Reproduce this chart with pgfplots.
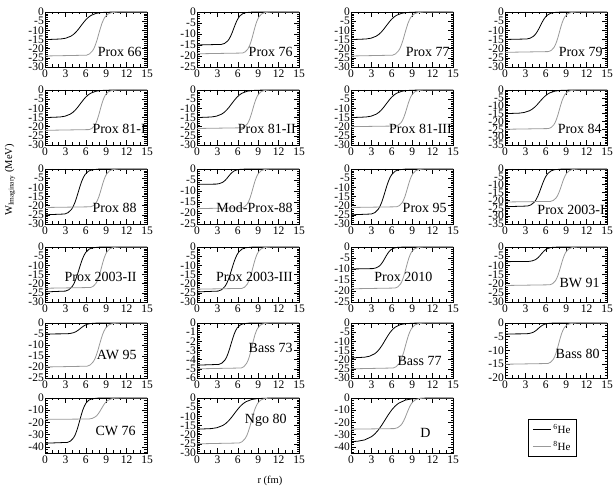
\documentclass[border=0pt]{standalone}
\usepackage{fontspec}
\setmainfont{Liberation Serif}
\usepackage{pgfplots}
\pgfplotsset{compat=1.18}

\pgfplotsset{
  pan/.style={scale only axis, width=102pt, height=55pt, anchor=north west,
    xmin=0, xmax=15, ymax=0, xtick={0,3,...,15}, minor x tick num=2,
    minor y tick num=4, ytick distance=5,
    tick align=inside, major tick length=5pt, minor tick length=2.5pt,
    axis line style={line width=0.7pt},
    every tick/.append style={black, line width=0.5pt},
    ticklabel style={font=\fontsize{11.5}{11.5}\selectfont},
    yticklabel style={inner xsep=1pt},
    xticklabel style={inner ysep=2.5pt},
    /pgf/number format/assume math mode=true},
  blk/.style={black, line width=0.8pt, no marks},
  gry/.style={black!40, line width=0.8pt, no marks},
}
\tikzset{lab/.style={font=\fontsize{14}{14}\selectfont, anchor=east, inner sep=0pt}}

\begin{document}
\begin{tikzpicture}[x=1pt,y=1pt]
\useasboundingbox (0,0) rectangle (616,486);

% ---------- row 1
\begin{axis}[pan, at={(45pt,474pt)}, ymin=-30]
\addplot[blk] coordinates {(0,-15)(0.8,-14.96)(2.3,-14.73)(3.05,-14.29)(3.8,-13.21)(4.18,-12.26)(4.55,-10.97)(4.93,-9.34)(5.3,-7.5)(5.68,-5.66)(6.05,-4.03)(6.43,-2.74)(6.8,-1.79)(7.55,-0.71)(8.3,-0.27)(9.8,-0.04)(15,0)};
\addplot[gry] coordinates {(0,-24)(6.1,-23.57)(6.55,-22.86)(7,-21.14)(7.23,-19.62)(7.45,-17.55)(7.68,-14.94)(7.9,-12)(8.13,-9.06)(8.35,-6.45)(8.58,-4.38)(8.8,-2.86)(9.25,-1.14)(9.7,-0.43)(10.6,-0.06)(15,0)};
\node[lab] at (rel axis cs:0.95,0.28) {Prox 66};
\end{axis}

\begin{axis}[pan, at={(197pt,474pt)}, ymin=-25]
\addplot[blk] coordinates {(0,-15)(3.6,-14.73)(4.05,-14.29)(4.5,-13.21)(4.73,-12.26)(4.95,-10.97)(5.18,-9.34)(5.4,-7.5)(5.63,-5.66)(5.85,-4.03)(6.08,-2.74)(6.3,-1.79)(6.75,-0.71)(7.2,-0.27)(8.1,-0.04)(15,0)};
\addplot[gry] coordinates {(0,-19)(6.7,-18.66)(7.1,-18.10)(7.5,-16.74)(7.7,-15.53)(7.9,-13.89)(8.1,-11.83)(8.3,-9.5)(8.5,-7.17)(8.7,-5.11)(8.9,-3.47)(9.1,-2.26)(9.5,-0.90)(9.9,-0.34)(10.7,-0.05)(15,0)};
\node[lab] at (rel axis cs:0.94,0.28) {Prox 76};
\end{axis}

\begin{axis}[pan, at={(351pt,474pt)}, ymin=-30]
\addplot[blk] coordinates {(0,-15)(0.7,-14.96)(2.2,-14.73)(2.95,-14.29)(3.7,-13.21)(4.08,-12.26)(4.45,-10.97)(4.83,-9.34)(5.2,-7.5)(5.58,-5.66)(5.95,-4.03)(6.33,-2.74)(6.7,-1.79)(7.45,-0.71)(8.2,-0.27)(9.7,-0.04)(15,0)};
\addplot[gry] coordinates {(0,-24)(6.1,-23.57)(6.55,-22.86)(7,-21.14)(7.23,-19.62)(7.45,-17.55)(7.68,-14.94)(7.9,-12)(8.13,-9.06)(8.35,-6.45)(8.58,-4.38)(8.8,-2.86)(9.25,-1.14)(9.7,-0.43)(10.6,-0.06)(15,0)};
\node[lab] at (rel axis cs:0.97,0.28) {Prox 77};
\end{axis}

\begin{axis}[pan, at={(505pt,474pt)}, ymin=-30]
\addplot[blk] coordinates {(0,-15)(3.2,-14.73)(3.7,-14.29)(4.2,-13.21)(4.45,-12.26)(4.7,-10.97)(4.95,-9.34)(5.2,-7.5)(5.45,-5.66)(5.7,-4.03)(5.95,-2.74)(6.2,-1.79)(6.7,-0.71)(7.2,-0.27)(8.2,-0.04)(15,0)};
\addplot[gry] coordinates {(0,-22)(6.4,-21.60)(6.8,-20.96)(7.2,-19.38)(7.4,-17.99)(7.6,-16.08)(7.8,-13.70)(8,-11)(8.2,-8.31)(8.4,-5.92)(8.6,-4.01)(8.8,-2.62)(9.2,-1.04)(9.6,-0.40)(10.4,-0.05)(15,0)};
\node[lab] at (rel axis cs:0.96,0.28) {Prox 79};
\end{axis}

% ---------- row 2
\begin{axis}[pan, at={(45pt,396pt)}, ymin=-30]
\addplot[blk] coordinates {(0,-15)(0.7,-14.96)(2.2,-14.73)(2.95,-14.29)(3.7,-13.21)(4.08,-12.26)(4.45,-10.97)(4.83,-9.34)(5.2,-7.5)(5.58,-5.66)(5.95,-4.03)(6.33,-2.74)(6.7,-1.79)(7.45,-0.71)(8.2,-0.27)(9.7,-0.04)(15,0)};
\addplot[gry] coordinates {(0,-22)(6.5,-21.60)(6.9,-20.96)(7.3,-19.38)(7.5,-17.99)(7.7,-16.08)(7.9,-13.70)(8.1,-11)(8.3,-8.31)(8.5,-5.92)(8.7,-4.01)(8.9,-2.62)(9.3,-1.04)(9.7,-0.40)(10.5,-0.05)(15,0)};
\node[lab] at (rel axis cs:0.99,0.3) {Prox 81-I};
\end{axis}

\begin{axis}[pan, at={(197pt,396pt)}, ymin=-30]
\addplot[blk] coordinates {(0,-15)(0.6,-14.96)(2.1,-14.73)(2.85,-14.29)(3.6,-13.21)(3.98,-12.26)(4.35,-10.97)(4.73,-9.34)(5.1,-7.5)(5.48,-5.66)(5.85,-4.03)(6.23,-2.74)(6.6,-1.79)(7.35,-0.71)(8.1,-0.27)(9.6,-0.04)(15,0)};
\addplot[gry] coordinates {(0,-21)(6.6,-20.62)(7,-20.00)(7.4,-18.50)(7.6,-17.17)(7.8,-15.35)(8,-13.07)(8.2,-10.5)(8.4,-7.93)(8.6,-5.65)(8.8,-3.83)(9,-2.50)(9.4,-1.00)(9.8,-0.38)(10.6,-0.05)(15,0)};
\node[lab] at (rel axis cs:0.97,0.3) {Prox 81-II};
\end{axis}

\begin{axis}[pan, at={(351pt,396pt)}, ymin=-30]
\addplot[blk] coordinates {(0,-15)(0.7,-14.96)(2.2,-14.73)(2.95,-14.29)(3.7,-13.21)(4.08,-12.26)(4.45,-10.97)(4.83,-9.34)(5.2,-7.5)(5.58,-5.66)(5.95,-4.03)(6.33,-2.74)(6.7,-1.79)(7.45,-0.71)(8.2,-0.27)(9.7,-0.04)(15,0)};
\addplot[gry] coordinates {(0,-20)(6.6,-19.64)(7,-19.05)(7.4,-17.62)(7.6,-16.35)(7.8,-14.62)(8,-12.45)(8.2,-10)(8.4,-7.55)(8.6,-5.38)(8.8,-3.65)(9,-2.38)(9.4,-0.95)(9.8,-0.36)(10.6,-0.05)(15,0)};
\node[lab] at (rel axis cs:0.99,0.3) {Prox 81-III};
\end{axis}

\begin{axis}[pan, at={(505pt,396pt)}, ymin=-35]
\addplot[blk] coordinates {(0,-15)(0.6,-14.96)(2.1,-14.73)(2.85,-14.29)(3.6,-13.21)(3.98,-12.26)(4.35,-10.97)(4.73,-9.34)(5.1,-7.5)(5.48,-5.66)(5.85,-4.03)(6.23,-2.74)(6.6,-1.79)(7.35,-0.71)(8.1,-0.27)(9.6,-0.04)(15,0)};
\addplot[gry] coordinates {(0,-25)(6.4,-24.55)(6.8,-23.81)(7.2,-22.02)(7.4,-20.44)(7.6,-18.28)(7.8,-15.56)(8,-12.5)(8.2,-9.44)(8.4,-6.72)(8.6,-4.56)(8.8,-2.98)(9.2,-1.19)(9.6,-0.45)(10.4,-0.06)(15,0)};
\node[lab] at (rel axis cs:0.95,0.3) {Prox 84};
\end{axis}

% ---------- row 3
\begin{axis}[pan, at={(45pt,317pt)}, ymin=-30]
\addplot[blk] coordinates {(0,-25)(2.9,-24.55)(3.4,-23.81)(3.9,-22.02)(4.15,-20.44)(4.4,-18.28)(4.65,-15.56)(4.9,-12.5)(5.15,-9.44)(5.4,-6.72)(5.65,-4.56)(5.9,-2.98)(6.4,-1.19)(6.9,-0.45)(7.9,-0.06)(15,0)};
\addplot[gry] coordinates {(0,-21)(6.7,-20.62)(7.1,-20.00)(7.5,-18.50)(7.7,-17.17)(7.9,-15.35)(8.1,-13.07)(8.3,-10.5)(8.5,-7.93)(8.7,-5.65)(8.9,-3.83)(9.1,-2.50)(9.5,-1.00)(9.9,-0.38)(10.7,-0.05)(15,0)};
\node[lab] at (rel axis cs:0.9,0.3) {Prox 88};
\end{axis}

\begin{axis}[pan, at={(197pt,317pt)}, ymin=-25]
\addplot[blk] coordinates {(0,-7)(2.8,-6.87)(3.25,-6.67)(3.7,-6.17)(3.93,-5.72)(4.15,-5.12)(4.38,-4.36)(4.6,-3.5)(4.83,-2.64)(5.05,-1.88)(5.28,-1.28)(5.5,-0.83)(5.95,-0.33)(6.4,-0.13)(7.3,-0.02)(15,0)};
\addplot[gry] coordinates {(0,-18)(6.6,-17.68)(7,-17.15)(7.4,-15.85)(7.6,-14.72)(7.8,-13.16)(8,-11.21)(8.2,-9)(8.4,-6.80)(8.6,-4.84)(8.8,-3.28)(9,-2.15)(9.4,-0.85)(9.8,-0.32)(10.6,-0.04)(15,0)};
\node[lab] at (rel axis cs:0.94,0.3) {Mod-Prox-88};
\end{axis}

\begin{axis}[pan, at={(351pt,317pt)}, ymin=-30]
\addplot[blk] coordinates {(0,-25)(3,-24.55)(3.5,-23.81)(4,-22.02)(4.25,-20.44)(4.5,-18.28)(4.75,-15.56)(5,-12.5)(5.25,-9.44)(5.5,-6.72)(5.75,-4.56)(6,-2.98)(6.5,-1.19)(7,-0.45)(8,-0.06)(15,0)};
\addplot[gry] coordinates {(0,-21)(6.7,-20.62)(7.1,-20.00)(7.5,-18.50)(7.7,-17.17)(7.9,-15.35)(8.1,-13.07)(8.3,-10.5)(8.5,-7.93)(8.7,-5.65)(8.9,-3.83)(9.1,-2.50)(9.5,-1.00)(9.9,-0.38)(10.7,-0.05)(15,0)};
\node[lab] at (rel axis cs:0.94,0.3) {Prox 95};
\end{axis}

\begin{axis}[pan, at={(505pt,317pt)}, ymin=-35]
\addplot[blk] coordinates {(0,-24)(3.3,-23.57)(3.8,-22.86)(4.3,-21.14)(4.55,-19.62)(4.8,-17.55)(5.05,-14.94)(5.3,-12)(5.55,-9.06)(5.8,-6.45)(6.05,-4.38)(6.3,-2.86)(6.8,-1.14)(7.3,-0.43)(8.3,-0.06)(15,0)};
\addplot[gry] coordinates {(0,-21)(6.7,-20.62)(7.1,-20.00)(7.5,-18.50)(7.7,-17.17)(7.9,-15.35)(8.1,-13.07)(8.3,-10.5)(8.5,-7.93)(8.7,-5.65)(8.9,-3.83)(9.1,-2.50)(9.5,-1.00)(9.9,-0.38)(10.7,-0.05)(15,0)};
\node[lab] at (rel axis cs:0.98,0.26) {Prox 2003-I};
\end{axis}

% ---------- row 4
\begin{axis}[pan, at={(45pt,239pt)}, ymin=-30]
\addplot[blk] coordinates {(0,-24.5)(3,-24.06)(3.5,-23.34)(4,-21.58)(4.25,-20.03)(4.5,-17.91)(4.75,-15.25)(5,-12.25)(5.25,-9.25)(5.5,-6.59)(5.75,-4.47)(6,-2.92)(6.5,-1.16)(7,-0.44)(8,-0.06)(15,0)};
\addplot[gry] coordinates {(0,-22.5)(6.7,-22.10)(7.1,-21.43)(7.5,-19.82)(7.7,-18.40)(7.9,-16.45)(8.1,-14.01)(8.3,-11.25)(8.5,-8.49)(8.7,-6.05)(8.9,-4.10)(9.1,-2.68)(9.5,-1.07)(9.9,-0.41)(10.7,-0.06)(15,0)};
\node[lab] at (rel axis cs:0.9,0.45) {Prox 2003-II};
\end{axis}

\begin{axis}[pan, at={(197pt,239pt)}, ymin=-30]
\addplot[blk] coordinates {(0,-24.5)(3.1,-24.06)(3.6,-23.34)(4.1,-21.58)(4.35,-20.03)(4.6,-17.91)(4.85,-15.25)(5.1,-12.25)(5.35,-9.25)(5.6,-6.59)(5.85,-4.47)(6.1,-2.92)(6.6,-1.16)(7.1,-0.44)(8.1,-0.06)(15,0)};
\addplot[gry] coordinates {(0,-23)(6.6,-22.59)(7,-21.91)(7.4,-20.26)(7.6,-18.80)(7.8,-16.82)(8,-14.32)(8.2,-11.5)(8.4,-8.68)(8.6,-6.19)(8.8,-4.20)(9,-2.74)(9.4,-1.09)(9.8,-0.41)(10.6,-0.06)(15,0)};
\node[lab] at (rel axis cs:0.94,0.45) {Prox 2003-III};
\end{axis}

\begin{axis}[pan, at={(351pt,239pt)}, ymin=-25]
\addplot[blk] coordinates {(0,-10)(3.2,-9.82)(3.65,-9.53)(4.1,-8.81)(4.33,-8.18)(4.55,-7.31)(4.78,-6.23)(5,-5)(5.23,-3.78)(5.45,-2.69)(5.68,-1.82)(5.9,-1.19)(6.35,-0.47)(6.8,-0.18)(7.7,-0.02)(15,0)};
\addplot[gry] coordinates {(0,-19)(6.5,-18.66)(6.9,-18.10)(7.3,-16.74)(7.5,-15.53)(7.7,-13.89)(7.9,-11.83)(8.1,-9.5)(8.3,-7.17)(8.5,-5.11)(8.7,-3.47)(8.9,-2.26)(9.3,-0.90)(9.7,-0.34)(10.5,-0.05)(15,0)};
\node[lab] at (rel axis cs:0.8,0.45) {Prox 2010};
\end{axis}

\begin{axis}[pan, at={(505pt,239pt)}, ymin=-30]
\addplot[blk] coordinates {(0,-8)(3.5,-7.86)(3.95,-7.62)(4.4,-7.05)(4.63,-6.54)(4.85,-5.85)(5.08,-4.98)(5.3,-4)(5.53,-3.02)(5.75,-2.15)(5.98,-1.46)(6.2,-0.95)(6.65,-0.38)(7.1,-0.14)(8,-0.02)(15,0)};
\addplot[gry] coordinates {(0,-21)(6.6,-20.62)(7,-20.00)(7.4,-18.50)(7.6,-17.17)(7.8,-15.35)(8,-13.07)(8.2,-10.5)(8.4,-7.93)(8.6,-5.65)(8.8,-3.83)(9,-2.50)(9.4,-1.00)(9.8,-0.38)(10.6,-0.05)(15,0)};
\node[lab] at (rel axis cs:0.93,0.35) {BW 91};
\end{axis}

% ---------- row 5
\begin{axis}[pan, at={(45pt,163pt)}, ymin=-25]
\addplot[blk] coordinates {(0,-5)(3.2,-4.91)(3.7,-4.76)(4.2,-4.40)(4.45,-4.09)(4.7,-3.66)(4.95,-3.11)(5.2,-2.5)(5.45,-1.89)(5.7,-1.34)(5.95,-0.91)(6.2,-0.60)(6.7,-0.24)(7.2,-0.09)(8.2,-0.01)(15,0)};
\addplot[gry] coordinates {(0,-20)(6.2,-19.64)(6.65,-19.05)(7.1,-17.62)(7.33,-16.35)(7.55,-14.62)(7.78,-12.45)(8,-10)(8.23,-7.55)(8.45,-5.38)(8.68,-3.65)(8.9,-2.38)(9.35,-0.95)(9.8,-0.36)(10.7,-0.05)(15,0)};
\node[lab] at (rel axis cs:0.9,0.41) {AW 95};
\end{axis}

\begin{axis}[pan, at={(197pt,163pt)}, ymin=-6, ytick distance=1]
\addplot[blk] coordinates {(0,-4.6)(3.2,-4.52)(3.65,-4.38)(4.1,-4.05)(4.33,-3.76)(4.55,-3.36)(4.78,-2.86)(5,-2.3)(5.23,-1.74)(5.45,-1.24)(5.68,-0.84)(5.9,-0.55)(6.35,-0.22)(6.8,-0.08)(7.7,-0.01)(15,0)};
\addplot[gry] coordinates {(0,-5)(6.5,-4.91)(6.9,-4.76)(7.3,-4.40)(7.5,-4.09)(7.7,-3.66)(7.9,-3.11)(8.1,-2.5)(8.3,-1.89)(8.5,-1.34)(8.7,-0.91)(8.9,-0.60)(9.3,-0.24)(9.7,-0.09)(10.5,-0.01)(15,0)};
\node[lab] at (rel axis cs:0.94,0.54) {Bass 73};
\end{axis}

\begin{axis}[pan, at={(351pt,163pt)}, ymin=-30]
\addplot[blk] coordinates {(0,-19)(0.5,-18.95)(2,-18.66)(2.75,-18.10)(3.5,-16.74)(3.88,-15.53)(4.25,-13.89)(4.63,-11.83)(5,-9.5)(5.38,-7.17)(5.75,-5.11)(6.13,-3.47)(6.5,-2.26)(7.25,-0.90)(8,-0.34)(9.5,-0.05)(15,0)};
\addplot[gry] coordinates {(0,-25)(6.2,-24.55)(6.65,-23.81)(7.1,-22.02)(7.33,-20.44)(7.55,-18.28)(7.78,-15.56)(8,-12.5)(8.23,-9.44)(8.45,-6.72)(8.68,-4.56)(8.9,-2.98)(9.35,-1.19)(9.8,-0.45)(10.7,-0.06)(15,0)};
\node[lab] at (rel axis cs:0.89,0.31) {Bass 77};
\end{axis}

\begin{axis}[pan, at={(505pt,163pt)}, ymin=-20]
\addplot[blk] coordinates {(0,-4)(3.1,-3.93)(3.55,-3.81)(4,-3.52)(4.23,-3.27)(4.45,-2.92)(4.68,-2.49)(4.9,-2)(5.13,-1.51)(5.35,-1.08)(5.58,-0.73)(5.8,-0.48)(6.25,-0.19)(6.7,-0.07)(7.6,-0.01)(15,0)};
\addplot[gry] coordinates {(0,-15)(6.3,-14.73)(6.7,-14.29)(7.1,-13.21)(7.3,-12.26)(7.5,-10.97)(7.7,-9.34)(7.9,-7.5)(8.1,-5.66)(8.3,-4.03)(8.5,-2.74)(8.7,-1.79)(9.1,-0.71)(9.5,-0.27)(10.3,-0.04)(15,0)};
\node[lab] at (rel axis cs:0.93,0.44) {Bass 80};
\end{axis}

% ---------- row 6
\begin{axis}[pan, at={(45pt,88pt)}, ymin=-45, ytick distance=10]
\addplot[blk] coordinates {(0,-37)(3.3,-36.33)(3.75,-35.25)(4.2,-32.59)(4.43,-30.25)(4.65,-27.05)(4.88,-23.03)(5.1,-18.5)(5.33,-13.97)(5.55,-9.95)(5.78,-6.75)(6,-4.41)(6.45,-1.75)(6.9,-0.67)(7.8,-0.09)(15,0)};
\addplot[gry] coordinates {(0,-17.5)(6.5,-17.19)(6.95,-16.67)(7.4,-15.41)(7.63,-14.31)(7.85,-12.79)(8.08,-10.89)(8.3,-8.75)(8.53,-6.61)(8.75,-4.71)(8.98,-3.19)(9.2,-2.09)(9.65,-0.83)(10.1,-0.32)(11,-0.04)(15,0)};
\node[lab] at (rel axis cs:0.89,0.4) {CW 76};
\end{axis}

\begin{axis}[pan, at={(197pt,88pt)}, ymin=-30]
\addplot[blk] coordinates {(0,-17)(0.4,-16.96)(2.1,-16.69)(2.95,-16.19)(3.8,-14.97)(4.23,-13.90)(4.65,-12.43)(5.08,-10.58)(5.5,-8.5)(5.93,-6.42)(6.35,-4.57)(6.78,-3.10)(7.2,-2.03)(8.05,-0.81)(8.9,-0.31)(10.6,-0.04)(15,0)};
\addplot[gry] coordinates {(0,-25)(6.2,-24.55)(6.65,-23.81)(7.1,-22.02)(7.33,-20.44)(7.55,-18.28)(7.78,-15.56)(8,-12.5)(8.23,-9.44)(8.45,-6.72)(8.68,-4.56)(8.9,-2.98)(9.35,-1.19)(9.8,-0.45)(10.7,-0.06)(15,0)};
\node[lab] at (rel axis cs:0.88,0.6) {Ngo 80};
\end{axis}

\begin{axis}[pan, at={(351pt,88pt)}, ymin=-45, ytick distance=10,
  legend style={at={(1.975,0.27)}, anchor=center, draw=black, line width=0.5pt,
    font=\fontsize{11}{12}\selectfont, inner xsep=4pt, inner ysep=3pt,
    row sep=2pt, cells={anchor=west}},
  legend image code/.code={\draw[#1] (0pt,0pt) -- (18pt,0pt);}]
\addplot[blk] coordinates {(0,-35.76)(1,-35.35)(2,-34.29)(3,-31.71)(3.5,-29.43)(4,-26.32)(4.5,-22.41)(5,-18)(5.5,-13.59)(6,-9.68)(6.5,-6.57)(7,-4.29)(8,-1.71)(9,-0.65)(11,-0.09)(15,0)};
\addplot[gry] coordinates {(0,-25.5)(6.4,-25.04)(6.85,-24.29)(7.3,-22.46)(7.53,-20.85)(7.75,-18.64)(7.98,-15.87)(8.2,-12.75)(8.43,-9.63)(8.65,-6.86)(8.88,-4.65)(9.1,-3.04)(9.55,-1.21)(10,-0.46)(10.9,-0.06)(15,0)};
\node[lab, anchor=center] at (rel axis cs:0.73,0.37) {D};
\legend{\textsuperscript{6}He, \textsuperscript{8}He}
\end{axis}

% axis titles
\node[rotate=90, font=\fontsize{10.5}{10.5}\selectfont] at (10,306) {W\textsubscript{Imaginary} (MeV)};
\node[font=\fontsize{10.5}{10.5}\selectfont] at (270,5) {r (fm)};
\end{tikzpicture}
\end{document}
